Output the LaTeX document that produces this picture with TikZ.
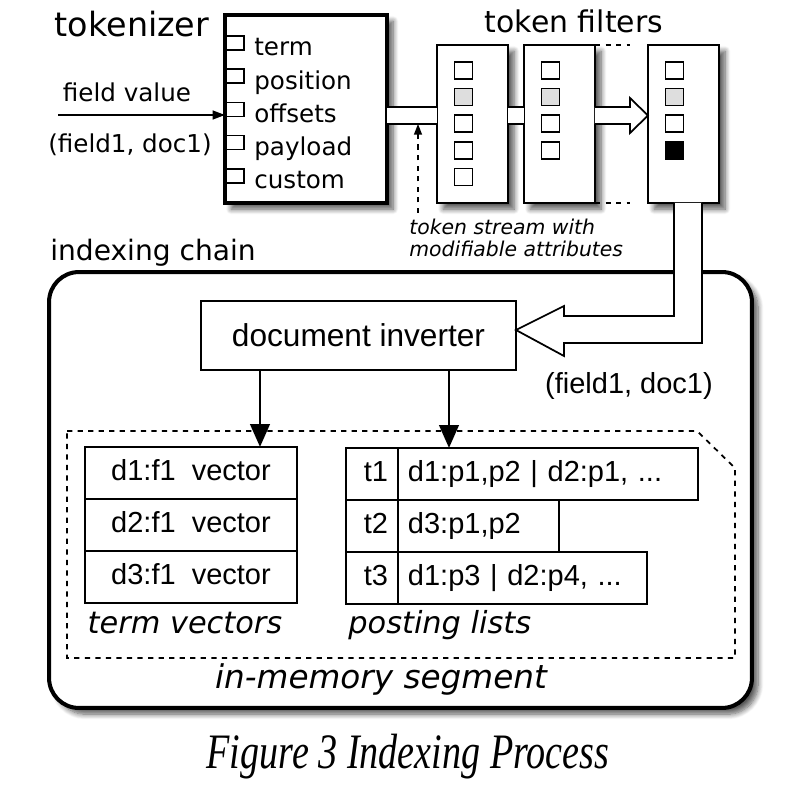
\documentclass[tikz,border=0pt]{standalone}
\usepackage{fontspec}
\usepackage{graphicx}
\setmainfont{DejaVu Sans}
\newfontfamily\arialfont{Liberation Sans}
\newfontfamily\timesfont{Liberation Serif}
\usetikzlibrary{calc,positioning,arrows.meta,shadows.blur}
\newcommand{\fsz}[1]{\fontsize{#1}{#1}\selectfont}

\begin{document}
\begin{tikzpicture}[x=0.02cm,y=-0.02cm,
	box/.style={draw,line width=1.1pt,fill=white,inner sep=0pt,outer sep=0pt},
	shade/.style={blur shadow={shadow xshift=3.5pt,shadow yshift=-3.5pt,shadow blur radius=3pt,shadow blur steps=8,shadow opacity=65}},
	attr/.style={draw,line width=0.9pt},
	cell/.style={draw,line width=1pt,minimum height=1.04cm,inner sep=0pt,outer sep=0pt,text height=12pt,text depth=4pt,font=\arialfont\fsz{16.5}},
	pipe/.style={line width=1pt},
	bigarrow/.style={line width=1.7pt,-{Triangle[length=13pt,width=11pt]}}]
	\useasboundingbox (0,0) rectangle (812,794);
	\coordinate (PT) at (0,107);
	\coordinate (PB) at (0,124);
	\coordinate (PM) at (0,115.5);
	\coordinate (FV) at (58,115);
	\coordinate (TS) at (418,213);
	\coordinate (AL) at (260,0);
	\coordinate (AR) at (449,0);
	\coordinate (LA) at (674,0);
	\coordinate (LB) at (702,0);
	% indexing chain
	\node[draw,line width=2.3pt,rounded corners=17pt,shade,fill=white,minimum width=14.06cm,minimum height=8.72cm,inner sep=0pt,outer sep=0pt] (chain) at (400.5,490) {};
	\node[font=\fsz{16},anchor=base] (chainlbl) at (153,260) {indexing chain};
	% tokenizer
	\node[box,line width=2.3pt,shade,minimum width=3.24cm,minimum height=3.76cm] (tok) at (306,109) {};
	\node[font=\fsz{19},anchor=base] (toklbl) at (132,37) {tokenizer};
	\foreach \lbl [count=\i from 0] in {term,position,offsets,payload,custom}{
		\node[font=\fsz{14},anchor=base west,inner sep=0pt] (item\i) at (254,{56+33.2*\i}) {\lbl};
		\draw[attr,fill=white] (226,{36+33.2*\i}) rectangle +(18,14);
	}
	\draw[pipe,-{Triangle[length=7pt,width=5pt]}] (FV) -- (tok.west |- FV);
	\node[font=\fsz{14},anchor=base] (fv) at (127,102) {field value};
	\node[font=\fsz{14},anchor=base] (fd) at (130,153) {(field1, doc1)};
	% token filters
	\node[box,shade,minimum width=1.42cm,minimum height=3.16cm] (f1) at (472.5,124) {};
	\node[box,shade,minimum width=1.42cm,minimum height=3.16cm,right=0.32cm of f1] (f2) {};
	\node[box,shade,minimum width=1.42cm,minimum height=3.16cm,right=1.06cm of f2] (f3) {};
	\node[font=\fsz{17},anchor=base] (tflbl) at (574,33) {token filters};
	\foreach \c [count=\i from 0] in {white,black!13,white,white,white}
		\draw[attr,fill=\c] ($ (f1.north west) + (17.5,{17+26.6*\i}) $) rectangle +(18,17);
	\foreach \c [count=\i from 0] in {white,black!13,white,white}
		\draw[attr,fill=\c] ($ (f2.north west) + (17.5,{17+26.6*\i}) $) rectangle +(18,17);
	\foreach \c [count=\i from 0] in {white,black!13,white,black}
		\draw[attr,fill=\c] ($ (f3.north west) + (17.5,{17+26.6*\i}) $) rectangle +(18,17);
	\draw[dashed,line width=1pt] (f2.north east) -- ++(35,0);
	\draw[dashed,line width=1pt] (f2.south east) -- ++(35,0);
	% token stream
	\fill[white] (tok.east |- PT) rectangle (f1.west |- PB);
	\fill[white] (f1.east |- PT) rectangle (f2.west |- PB);
	\draw[pipe] (tok.east |- PT) -- (f1.west |- PT) (tok.east |- PB) -- (f1.west |- PB);
	\draw[pipe] (f1.east |- PT) -- (f2.west |- PT) (f1.east |- PB) -- (f2.west |- PB);
	\draw[pipe,fill=white] (f2.east |- PT) -- (630,107) -- (630,98) -- (f3.west |- PM) -- (630,133) -- (630,124) -- (f2.east |- PB);
	\draw[dashed,line width=0.8pt,-{Triangle[length=6pt,width=4.5pt]}] (TS) -- (TS |- PB);
	\node[font=\itshape\fontsize{11.6}{12.5}\selectfont,align=left,anchor=north west,inner sep=0pt] (tslbl) at (409,219) {token stream with\\modifiable attributes};
	% document inverter
	\node[box,minimum width=6.3cm,minimum height=1.38cm,font=\arialfont\fsz{18}] (dinv) at (358.5,335.5) {document inverter};
	\draw[pipe,fill=white] (f3.south -| LA) -- (674,316) -- (564,316) -- (564,306) -- (dinv.east |- 0,330) -- (564,356) -- (564,343) -- (702,343) -- (f3.south -| LB);
	\node[font=\arialfont\fsz{16.5},anchor=base] (fd2) at (629,393) {(field1, doc1)};
	% in-memory segment
	\draw[dashed,line width=1pt] (67,431) -- (697,431) -- (735,468) -- (735,658) -- (67,658) -- cycle;
	\node[cell,minimum width=4.24cm] (tv1) at (191,473) {d1:f1\ \ vector};
	\node[cell,minimum width=4.24cm,below=0pt of tv1] (tv2) {d2:f1\ \ vector};
	\node[cell,minimum width=4.24cm,below=0pt of tv2] (tv3) {d3:f1\ \ vector};
	\node[cell,minimum width=1.04cm,text width=0.64cm,align=right] (t1) at (372,474) {t1};
	\node[cell,minimum width=1.04cm,text width=0.64cm,align=right,below=0pt of t1] (t2) {t2};
	\node[cell,minimum width=1.04cm,text width=0.64cm,align=right,below=0pt of t2] (t3) {t3};
	\node[cell,text width=5.6cm,align=left,inner xsep=0.2cm,right=0pt of t1] (p1) {d1:p1,p2 | d2:p1, ...};
	\node[cell,text width=2.82cm,align=left,inner xsep=0.2cm,right=0pt of t2] (p2) {d3:p1,p2};
	\node[cell,text width=4.58cm,align=left,inner xsep=0.2cm,right=0pt of t3] (p3) {d1:p3 | d2:p4, ...};
	\draw[bigarrow] (dinv.south -| AL) -- (tv1.north -| AL);
	\draw[bigarrow] (dinv.south -| AR) -- (p1.north -| AR);
	\node[font=\itshape\fsz{17.3},anchor=base] (tvlbl) at (185,633) {term vectors};
	\node[font=\itshape\fsz{17.3},anchor=base west,inner sep=0pt] (pllbl) at (348,633) {posting lists};
	\node[font=\itshape\fsz{18.6},anchor=base] (seglbl) at (381,688) {in-memory segment};
	% caption
	\node[anchor=base,inner sep=0pt] (cap) at (408,768) {\scalebox{1}[1.3]{\timesfont\itshape\fsz{21.7}Figure 3 Indexing Process}};
\end{tikzpicture}
\end{document}
